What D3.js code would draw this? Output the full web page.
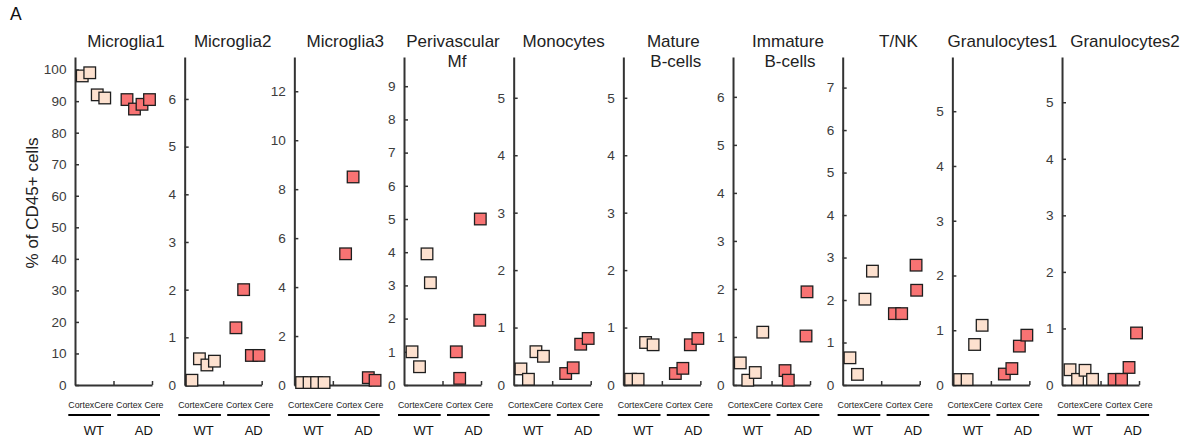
<!DOCTYPE html>
<html><head><meta charset="utf-8">
<script src="https://cdn.jsdelivr.net/npm/d3@7"></script>
<style>
body{margin:0;background:#fff;}
svg{display:block;font-family:"Liberation Sans",Arial,Helvetica,sans-serif;}
</style>
</head><body>
<svg id="chart" width="1191" height="441"></svg>
<script>
// ---------- DATA ----------
const titles = [["Microglia1"],["Microglia2"],["Microglia3"],["Perivascular","Mf"],["Monocytes"],
  ["Mature","B-cells"],["Immature","B-cells"],["T/NK"],["Granulocytes1"],["Granulocytes2"]];
const groups = ["WT","AD"];
const subLabels = ["CortexCere","Cortex Cere"];
const yLabel = "% of CD45+ cells";
const panelLetter = "A";
// values per panel (4 samples: Cortex, Cortex, Cere, Cere)
const wtValues = [[98,99,92,91],[0.1,0.55,0.42,0.5],[0.1,0.1,0.1,0.1],[1.0,0.55,3.95,3.08],
  [0.28,0.1,0.58,0.5],[0.1,0.1,0.74,0.7],[0.46,0.1,0.26,1.1],[0.64,0.25,2.02,2.68],
  [0.1,0.1,0.74,1.09],[0.27,0.1,0.26,0.1]];
const adValues = [[90.5,87.5,89,90.5],[1.2,2.0,0.62,0.62],[5.36,8.5,0.3,0.19],[1.0,0.2,1.95,5.0],
  [0.2,0.3,0.71,0.81],[0.2,0.29,0.7,0.81],[0.3,0.1,1.02,1.94],[1.68,1.68,2.82,2.23],
  [0.2,0.3,0.71,0.91],[0.1,0.1,0.31,0.92]];
// jittered x positions (slot units inside each group)
const wtSlots = [[0,1,2,3],[0,1,2,3],[0,1,2,3],[0.1,1.1,2.1,2.55],[0,1,2,3],
  [0,1,2,3],[0,1,2,3],[0,1,2,3],[0,1,2,3],[0.1,1.1,2.1,3.1]];
const adSlots = [[0,1,2,3],[-0.1,0.93,1.96,2.97],[-0.1,0.9,2.93,3.83],[0.04,0.49,3.16,3.24],[0,1,2,3],
  [0,1,2,3],[0,0.44,2.8,2.93],[-0.04,0.93,2.85,2.93],[0,1,2,3],[0,1,2,3]];
// y axis extents and tick steps
const yMax = [104,6.88,13.4,9.88,5.71,5.71,6.83,7.72,5.99,5.8];
const yStep = [10,1,2,1,1,1,1,1,1,1];

// ---------- LAYOUT ----------
const FONT = '"Liberation Sans",Arial,Helvetica,sans-serif';
const axisX0 = 75, axisStep = 109.67, yTop = 57, yBot = 385;
const blockX0 = 68.3, blockStep = 109.9;
const titleDx = [51,48,51,49,50,50,55,55.7,50,63];
const title2Dx = [0,0,0,53,0,52.5,57,0,0,0];
const colors = {WT:"#FDE1CF", AD:"#F87373"};
const sq = 11.6;

const svg = d3.select("#chart");

svg.append("text").attr("x",10).attr("y",20).attr("font-size",17.5).attr("fill","#111").text(panelLetter);
svg.append("text").attr("transform","translate(38,203) rotate(-90)")
  .attr("text-anchor","middle").attr("font-size",17).attr("fill","#222").text(yLabel);

titles.forEach((t,i)=>{
  const ax = axisX0 + i*axisStep;
  const g = svg.append("g").attr("transform",`translate(${ax},0)`);
  const y = d3.scaleLinear().domain([0,yMax[i]]).range([yBot,yTop]);
  const ticks = d3.range(0, yMax[i]+1e-9, yStep[i]);

  // title
  const tt = g.append("text").attr("text-anchor","middle").attr("font-size",17).attr("fill","#222");
  tt.append("tspan").attr("x",titleDx[i]).attr("y",47).text(t[0]);
  if (t[1]) tt.append("tspan").attr("x",title2Dx[i]).attr("y",67).text(t[1]);

  // y axis
  const ya = g.append("g").call(d3.axisLeft(y).tickValues(ticks).tickSize(-4).tickSizeOuter(0)
      .tickPadding(8.5).tickFormat(d3.format("d")))
    .attr("font-family",FONT).attr("font-size",13.6);
  ya.select(".domain").attr("stroke","#333").attr("stroke-width",2);
  ya.selectAll(".tick line").attr("stroke","#333").attr("stroke-width",1.5);
  ya.selectAll(".tick text").attr("fill","#3c3c3c");

  // x axis
  const xa = d3.scaleLinear().domain([0,2]).range([0,77]);
  const xg = g.append("g").attr("transform",`translate(0,${yBot})`)
    .call(d3.axisBottom(xa).tickValues([1,2]).tickSize(-4).tickSizeOuter(0).tickFormat(""));
  xg.select(".domain").attr("stroke","#333").attr("stroke-width",2);
  xg.selectAll(".tick line").attr("stroke","#333").attr("stroke-width",1.5);

  // points
  const xb = d3.scaleBand().domain(groups).range([3.5,78.25]).paddingInner(0.3296).paddingOuter(0);
  const pts = [];
  wtValues[i].forEach((v,k)=>pts.push({g:"WT",v,s:wtSlots[i][k]}));
  adValues[i].forEach((v,k)=>pts.push({g:"AD",v,s:adSlots[i][k]}));
  g.selectAll("rect.pt").data(pts).join("rect").attr("class","pt")
    .attr("x",d=>xb(d.g)+(d.s+0.5)*xb.bandwidth()/4 - sq/2)
    .attr("y",d=>y(d.v)-sq/2)
    .attr("width",sq).attr("height",sq)
    .attr("fill",d=>colors[d.g]).attr("stroke","#1e1e1e").attr("stroke-width",1.3);

  // bottom group labels
  const b = blockX0 + i*blockStep;
  const bg = svg.append("g").attr("transform",`translate(${b},0)`);
  const subX = [22.5,71.5], lineX = [0,49], grpX = [25.5,75.5];
  groups.forEach((gr,j)=>{
    bg.append("text").attr("x",subX[j]).attr("y",408).attr("text-anchor","middle")
      .attr("font-size",8.8).attr("fill","#222").text(subLabels[j]);
    bg.append("line").attr("x1",lineX[j]).attr("x2",lineX[j]+42.7).attr("y1",415).attr("y2",415)
      .attr("stroke","#000").attr("stroke-width",2.2);
    bg.append("text").attr("x",grpX[j]).attr("y",435).attr("text-anchor","middle")
      .attr("font-size",13).attr("fill","#111").text(gr);
  });
});
</script>
</body></html>
